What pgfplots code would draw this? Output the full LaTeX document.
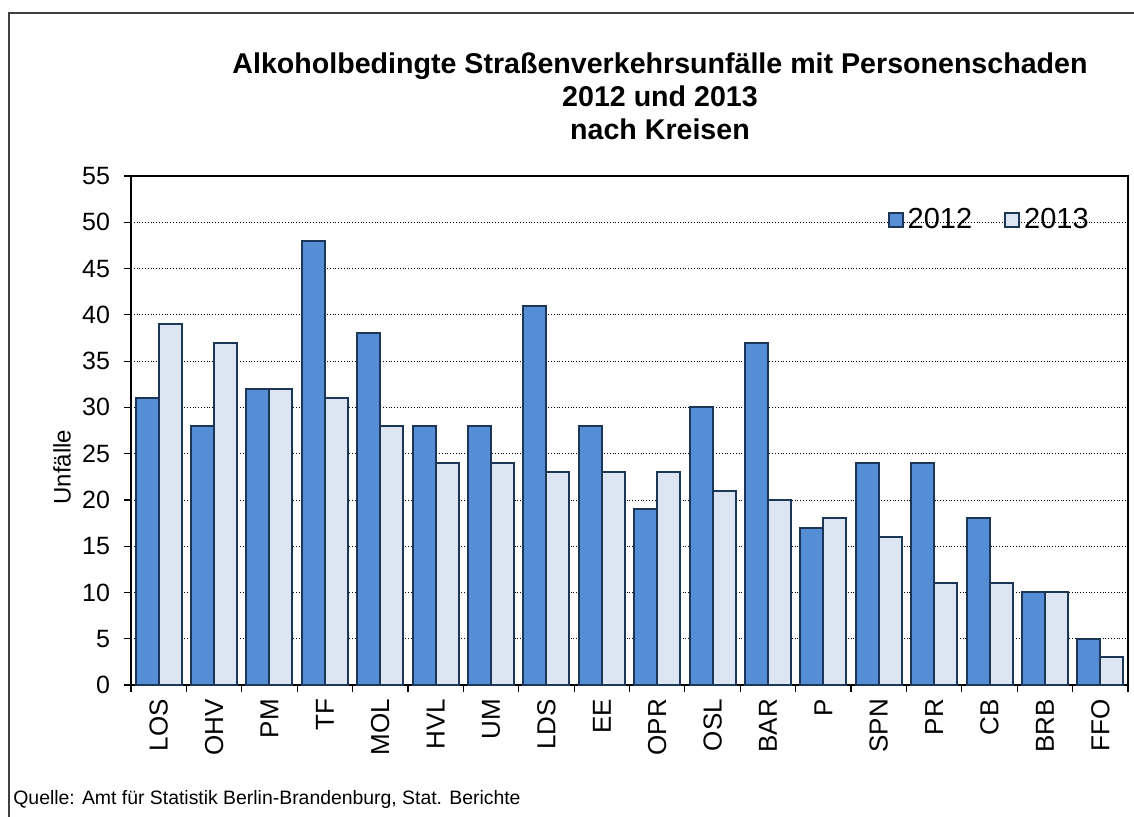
\documentclass[border=0pt]{standalone}
\usepackage{fontspec}
\setmainfont{Liberation Sans}
\usepackage{pgfplots}
\pgfplotsset{compat=1.18}
\usepackage{pgfplotstable}

\definecolor{bar12}{HTML}{558ED5}
\definecolor{bar13}{HTML}{DCE6F2}
\definecolor{edge}{HTML}{1C3658}

% Unfaelle je Kreis: 2012 und 2013
\pgfplotstableread{
x name y12 y13
0  LOS 31 39
1  OHV 28 37
2  PM  32 32
3  TF  48 31
4  MOL 38 28
5  HVL 28 24
6  UM  28 24
7  LDS 41 23
8  EE  28 23
9  OPR 19 23
10 OSL 30 21
11 BAR 37 20
12 P   17 18
13 SPN 24 16
14 PR  24 11
15 CB  18 11
16 BRB 10 10
17 FFO 5  3
}\kreise

\begin{document}
\begin{tikzpicture}
\begin{axis}[
    at={(0,0)}, anchor=south west,
    scale only axis,
    width=498.5pt, height=254.5pt,
    ybar=0pt,
    bar width=0.415,
    xmin=-0.5, xmax=17.5,
    ymin=0, ymax=55,
    ytick={0,5,...,55},
    xtick=data,
    xticklabels from table={\kreise}{name},
    minor xtick={-0.5,0.5,...,17.5},
    major x tick style={draw=none},
    tick pos=left,
    tick align=outside,
    major tick length=3.5pt,
    minor tick length=3.5pt,
    tick style={black, line width=0.6pt},
    axis line style={black, line width=1pt},
    ymajorgrids,
    grid style={black, densely dotted, line width=0.4pt},
    xticklabel style={rotate=90, anchor=east, font=\fontsize{13}{15}\selectfont},
    yticklabel style={font=\fontsize{12.5}{15}\selectfont, xshift=-3.5pt},
    /pgf/number format/assume math mode=true,
    ylabel={\fontsize{12}{14}\selectfont Unfälle},
    every axis y label/.style={at={(-34.5pt,109pt)}, rotate=90, anchor=center},
    legend style={at={(0.965,0.945)}, anchor=north east, draw=none, fill=none,
        font=\fontsize{14.5}{16}\selectfont, legend columns=2,
        /tikz/every even column/.append style={column sep=14pt},
        inner sep=0pt},
    legend image code/.code={\draw[#1, line width=1pt] (0pt,-3.5pt) rectangle (7pt,3.5pt);},
    legend cell align=left,
]
\addplot[fill=bar12, draw=edge, line width=1pt] table[x=x, y=y12] {\kreise};
\addplot[fill=bar13, draw=edge, line width=1pt] table[x=x, y=y13] {\kreise};
\legend{2012,2013}
\end{axis}
% Titel
\node[align=center, font=\bfseries\fontsize{14.3}{16.5}\selectfont] at (264.5pt,294.5pt)
    {Alkoholbedingte Straßenverkehrsunfälle mit Personenschaden\\2012 und 2013\\nach Kreisen};
% Quelle
\node[anchor=west, inner sep=0pt, font=\fontsize{9.7}{11}\selectfont] at (-59pt,-57pt)
    {Quelle: Amt für Statistik Berlin-Brandenburg, Stat. Berichte};
% Rahmen
\draw[black!75, line width=0.6pt] (-61pt,-66pt) -- (-61pt,336pt) -- (502pt,336pt);
\pgfresetboundingbox
\path[use as bounding box] (-65.5pt,-65.5pt) rectangle (501.5pt,342.5pt);
\end{tikzpicture}
\end{document}
